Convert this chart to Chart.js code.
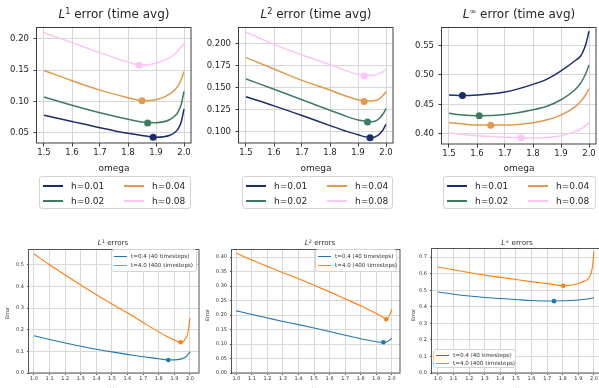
<!DOCTYPE html>
<html>
<head>
<meta charset="utf-8">
<script src="https://cdn.jsdelivr.net/npm/chart.js@4.4.1/dist/chart.umd.min.js"></script>
<style>
    html, body { margin: 0; padding: 0; background: #fff; }
    body { width: 599px; height: 388px; overflow: hidden; position: relative; font-family: "DejaVu Sans", sans-serif; color: #262626; }
    canvas { position: absolute; }
    .txt { position: absolute; white-space: nowrap; transform: translate(-50%, -50%); line-height: 1; }
    .leg { position: absolute; border: 1px solid #d4d4d4; border-radius: 3px; background: #fff; box-sizing: border-box; }
    .leg span { position: absolute; white-space: nowrap; line-height: 1; transform: translateY(-50%); }
    .leg i { position: absolute; display: block; }
    .m { font-style: italic; }
    sup { font-size: 0.68em; vertical-align: 0.5em; line-height: 0; }
</style>
</head>
<body>
<script>
    // ---- top row: time averaged errors vs omega ----
    const hLabels = ['h=0.01', 'h=0.02', 'h=0.04', 'h=0.08'];
    const hColors = ['#1c2b6b', '#3f7c5f', '#e09a4c', '#fcc5f6'];

    const omegaL1 = [1.5, 1.6, 1.7, 1.8, 1.85, 1.9, 1.95, 1.97, 1.98, 1.99, 2.0];
    const l1h01 = [0.078, 0.068, 0.058, 0.049, 0.0455, 0.0428, 0.046, 0.0515, 0.057, 0.067, 0.0876];
    const l1h02 = [0.107, 0.094, 0.082, 0.0715, 0.067, 0.066, 0.071, 0.078, 0.084, 0.095, 0.116];
    const l1h04 = [0.1495, 0.133, 0.118, 0.106, 0.101, 0.1025, 0.112, 0.12, 0.126, 0.135, 0.148];
    const l1h08 = [0.210, 0.194, 0.178, 0.163, 0.158, 0.161, 0.170, 0.177, 0.182, 0.187, 0.193];
    const l1MinX = [1.89, 1.87, 1.85, 1.84];
    const l1MinY = [0.0428, 0.0655, 0.101, 0.158];

    const omegaL2 = [1.5, 1.6, 1.7, 1.8, 1.85, 1.9, 1.95, 1.97, 1.98, 1.99, 2.0];
    const l2h01 = [0.1393, 0.129, 0.118, 0.1065, 0.101, 0.096, 0.0928, 0.095, 0.098, 0.102, 0.108];
    const l2h02 = [0.1596, 0.148, 0.136, 0.124, 0.118, 0.113, 0.111, 0.113, 0.116, 0.120, 0.126];
    const l2h04 = [0.184, 0.171, 0.158, 0.147, 0.141, 0.136, 0.1345, 0.136, 0.138, 0.141, 0.145];
    const l2h08 = [0.213, 0.199, 0.187, 0.176, 0.170, 0.165, 0.1635, 0.165, 0.1665, 0.168, 0.171];
    const l2MinX = [1.943, 1.934, 1.922, 1.922];
    const l2MinY = [0.0926, 0.1107, 0.134, 0.163];

    const omegaLi = [1.5, 1.55, 1.6, 1.7, 1.8, 1.85, 1.9, 1.95, 1.97, 1.98, 1.99, 2.0];
    const lih01 = [0.466, 0.465, 0.466, 0.471, 0.484, 0.493, 0.507, 0.524, 0.532, 0.541, 0.554, 0.574];
    const lih02 = [0.435, 0.432, 0.431, 0.433, 0.441, 0.447, 0.458, 0.475, 0.486, 0.494, 0.504, 0.517];
    const lih04 = [0.419, 0.417, 0.415, 0.415, 0.419, 0.424, 0.432, 0.446, 0.455, 0.461, 0.468, 0.476];
    const lih08 = [0.4016, 0.399, 0.397, 0.3945, 0.3935, 0.394, 0.397, 0.404, 0.408, 0.411, 0.415, 0.420];
    const liMinX = [1.548, 1.608, 1.649, 1.758];
    const liMinY = [0.465, 0.431, 0.4147, 0.3934];

    const omegaTicks = [1.5, 1.6, 1.7, 1.8, 1.9, 2.0];

    // ---- bottom row: errors at t=0.4 and t=4.0 ----
    const tLabels = ['t=0.4 (40 timesteps)', 't=4.0 (400 timesteps)'];
    const tColors = ['#1f77b4', '#ff7f0e'];
    const omegaB = [1.0, 1.1, 1.2, 1.3, 1.4, 1.5, 1.6, 1.7, 1.8, 1.85, 1.9, 1.94, 1.96, 1.97, 1.98, 1.99, 2.0];

    const e1t04 = [0.172, 0.155, 0.139, 0.124, 0.110, 0.0975, 0.086, 0.075, 0.066, 0.061, 0.0605, 0.064, 0.069, 0.073, 0.079, 0.088, 0.099];
    const e1t40 = [0.550, 0.500, 0.453, 0.407, 0.362, 0.319, 0.277, 0.233, 0.190, 0.170, 0.152, 0.142, 0.146, 0.160, 0.168, 0.200, 0.255];
    const e1MinX = [1.861, 1.940];
    const e1MinY = [0.060, 0.142];

    const e2t04 = [0.2145, 0.202, 0.190, 0.178, 0.167, 0.1555, 0.143, 0.130, 0.118, 0.113, 0.108, 0.106, 0.107, 0.108, 0.111, 0.115, 0.120];
    const e2t40 = [0.414, 0.390, 0.368, 0.346, 0.325, 0.303, 0.280, 0.256, 0.232, 0.219, 0.205, 0.193, 0.186, 0.187, 0.194, 0.205, 0.220];
    const e2MinX = [1.946, 1.964];
    const e2MinY = [0.106, 0.1855];

    const eit04 = [0.489, 0.476, 0.465, 0.456, 0.450, 0.444, 0.438, 0.435, 0.436, 0.438, 0.441, 0.445, 0.447, 0.449, 0.451, 0.453, 0.456];
    const eit40 = [0.639, 0.624, 0.607, 0.591, 0.578, 0.565, 0.552, 0.540, 0.528, 0.530, 0.540, 0.555, 0.566, 0.578, 0.598, 0.640, 0.735];
    const eiMinX = [1.744, 1.803];
    const eiMinY = [0.434, 0.527];

    const omegaTicksB = [1.0, 1.1, 1.2, 1.3, 1.4, 1.5, 1.6, 1.7, 1.8, 1.9, 2.0];

    // draws the full axes box (matplotlib spines)
    const spinePlugin = {
        id: 'spine',
        afterDatasetsDraw(chart, args, opts) {
            const a = chart.chartArea, c = chart.ctx;
            c.save();
            c.strokeStyle = opts.color;
            c.lineWidth = 1;
            c.strokeRect(Math.round(a.left) - 0.5, Math.round(a.top) + 0.5, Math.round(a.right - a.left) + 0.5, Math.round(a.bottom - a.top) - 0.5);
            c.restore();
        }
    };

    function makeChart(o) {
        const m = 6;
        const left = o.plot.l - o.yw - m, top = o.plot.t - m;
        const w = o.plot.r - o.plot.l + o.yw + 2 * m;
        const h = o.plot.b - o.plot.t + o.xh + 2 * m;
        const cv = document.createElement('canvas');
        cv.width = w; cv.height = h;
        cv.style.left = left + 'px'; cv.style.top = top + 'px';
        cv.style.width = w + 'px'; cv.style.height = h + 'px';
        document.body.appendChild(cv);

        const datasets = [];
        o.series.forEach((ys, i) => {
            datasets.push({
                data: o.xs.map((x, j) => ({ x: x, y: ys[j] })),
                borderColor: o.colors[i], borderWidth: o.lw,
                pointRadius: 0, cubicInterpolationMode: 'monotone', fill: false, order: 1
            });
            datasets.push({
                data: [{ x: o.minX[i], y: o.minY[i] }],
                showLine: false, pointRadius: o.pr, pointBorderWidth: 0,
                pointBackgroundColor: o.colors[i], order: 0
            });
        });

        const font = { family: 'DejaVu Sans', size: o.fs };
        new Chart(cv, {
            type: 'line',
            data: { datasets: datasets },
            plugins: [spinePlugin],
            options: {
                responsive: false, animation: false,
                layout: { padding: m, autoPadding: false },
                plugins: { legend: { display: false }, tooltip: { enabled: false }, spine: { color: o.spine } },
                scales: {
                    x: {
                        type: 'linear', min: o.xMin, max: o.xMax,
                        afterBuildTicks: s => { s.ticks = o.xTicks.map(v => ({ value: v })); },
                        afterFit: s => { s.height = o.xh; },
                        ticks: { callback: v => v.toFixed(1), font: font, color: o.tc, padding: o.xpad, maxRotation: 0, autoSkip: false },
                        grid: { color: o.grid, lineWidth: 1, tickLength: o.tl, tickColor: o.spine },
                        border: { display: false }
                    },
                    y: {
                        type: 'linear', min: o.yMin, max: o.yMax,
                        afterBuildTicks: s => { s.ticks = o.yTicks.map(v => ({ value: v })); },
                        afterFit: s => { s.width = o.yw; },
                        ticks: { callback: v => v.toFixed(o.yDec), font: font, color: o.tc, padding: o.ypad, autoSkip: false },
                        grid: { color: o.grid, lineWidth: 1, tickLength: o.tl, tickColor: o.spine },
                        border: { display: false }
                    }
                }
            }
        });
    }

    function text(html, x, y, size, extra) {
        const d = document.createElement('div');
        d.className = 'txt';
        d.innerHTML = html;
        d.style.left = x + 'px'; d.style.top = y + 'px'; d.style.fontSize = size + 'px';
        if (extra) d.style.cssText += extra;
        document.body.appendChild(d);
    }

    function legend(box, labels, colors, cfg) {
        const d = document.createElement('div');
        d.className = 'leg';
        d.style.left = box.l + 'px'; d.style.top = box.t + 'px';
        d.style.width = (box.r - box.l) + 'px'; d.style.height = (box.b - box.t) + 'px';
        labels.forEach((lab, i) => {
            const col = Math.floor(i / cfg.rows), row = i % cfg.rows;
            const x0 = cfg.colX[col], y0 = cfg.rowY[row];
            const ln = document.createElement('i');
            ln.style.left = x0 + 'px'; ln.style.width = cfg.lineW + 'px';
            ln.style.top = Math.round(y0 - cfg.lw / 2) + 'px'; ln.style.height = cfg.lw + 'px';
            ln.style.background = colors[i];
            d.appendChild(ln);
            const s = document.createElement('span');
            s.textContent = lab;
            s.style.left = (x0 + cfg.textDx) + 'px'; s.style.top = y0 + 'px';
            s.style.fontSize = cfg.fs + 'px'; s.style.color = cfg.color;
            d.appendChild(s);
        });
        document.body.appendChild(d);
    }

    // ---- top row ----
    const topCommon = {
        yw: 38, xh: 16, xMin: 1.475, xMax: 2.025, xTicks: omegaTicks,
        colors: hColors, lw: 1.5, pr: 3.5, fs: 8.5, tc: '#262626',
        grid: '#d6d6d6', spine: '#3c3c3c', tl: 3.5, xpad: 1.5, ypad: 4.5
    };
    makeChart(Object.assign({}, topCommon, {
        plot: { l: 37, t: 23, r: 191, b: 143 }, xs: omegaL1,
        series: [l1h01, l1h02, l1h04, l1h08], minX: l1MinX, minY: l1MinY,
        yMin: 0.0335, yMax: 0.2196, yTicks: [0.05, 0.10, 0.15, 0.20], yDec: 2
    }));
    makeChart(Object.assign({}, topCommon, {
        plot: { l: 239, t: 23, r: 393, b: 143 }, xs: omegaL2,
        series: [l2h01, l2h02, l2h04, l2h08], minX: l2MinX, minY: l2MinY,
        yMin: 0.0867, yMax: 0.2193, yTicks: [0.100, 0.125, 0.150, 0.175, 0.200], yDec: 3
    }));
    makeChart(Object.assign({}, topCommon, {
        plot: { l: 442, t: 23, r: 596, b: 144 }, xs: omegaLi,
        series: [lih01, lih02, lih04, lih08], minX: liMinX, minY: liMinY,
        yMin: 0.383, yMax: 0.5819, yTicks: [0.40, 0.45, 0.50, 0.55], yDec: 2
    }));

    text('<span class="m">L</span><sup>1</sup> error (time avg)', 114, 14, 12);
    text('<span class="m">L</span><sup>2</sup> error (time avg)', 316, 14, 12);
    text('<span class="m">L</span><sup>∞</sup> error (time avg)', 519, 14, 12);
    text('omega', 114, 168, 9);
    text('omega', 316, 168, 9);
    text('omega', 519, 168, 9);

    const topLeg = { rows: 2, colX: [3, 84], rowY: [9, 24], lineW: 20, lw: 2, textDx: 28, fs: 9, color: '#262626' };
    legend({ l: 39, t: 176, r: 191, b: 209 }, hLabels, hColors, topLeg);
    legend({ l: 242, t: 176, r: 393, b: 209 }, hLabels, hColors, topLeg);
    legend({ l: 443, t: 176, r: 596, b: 209 }, hLabels, hColors, topLeg);

    // ---- bottom row ----
    const botCommon = {
        yw: 20, xh: 9, xTicks: omegaTicksB, xs: omegaB,
        colors: tColors, lw: 1.1, pr: 2.3, fs: 5, tc: '#333',
        grid: '#d9d9d9', spine: '#555', tl: 2, xpad: 0.5, ypad: 3
    };
    makeChart(Object.assign({}, botCommon, {
        plot: { l: 29, t: 249, r: 199, b: 373 },
        series: [e1t04, e1t40], minX: e1MinX, minY: e1MinY,
        xMin: 0.968, xMax: 2.058, yMin: 0, yMax: 0.573, yTicks: [0, 0.1, 0.2, 0.3, 0.4, 0.5], yDec: 1
    }));
    makeChart(Object.assign({}, botCommon, {
        plot: { l: 232, t: 249, r: 400, b: 373 },
        series: [e2t04, e2t40], minX: e2MinX, minY: e2MinY,
        xMin: 0.972, xMax: 2.053, yMin: 0, yMax: 0.428, yTicks: [0, 0.05, 0.10, 0.15, 0.20, 0.25, 0.30, 0.35, 0.40], yDec: 2
    }));
    makeChart(Object.assign({}, botCommon, {
        plot: { l: 432, t: 248, r: 603, b: 373 },
        series: [eit04, eit40], minX: eiMinX, minY: eiMinY,
        xMin: 0.962, xMax: 2.058, yMin: 0, yMax: 0.755, yTicks: [0, 0.1, 0.2, 0.3, 0.4, 0.5, 0.6, 0.7], yDec: 1
    }));

    text('<span class="m">L</span><sup>1</sup> errors', 113, 243, 7.2, 'color:#333');
    text('<span class="m">L</span><sup>2</sup> errors', 320, 243, 7.2, 'color:#333');
    text('<span class="m">L</span><sup>∞</sup> errors', 517, 243, 7.2, 'color:#333');
    text('Error', 7, 313, 5, 'color:#333;transform:translate(-50%,-50%) rotate(-90deg)');
    text('Error', 207, 315, 5, 'color:#333;transform:translate(-50%,-50%) rotate(-90deg)');
    text('Error', 413, 315, 5, 'color:#333;transform:translate(-50%,-50%) rotate(-90deg)');
    text('ω', 112, 389, 6, 'color:#333');
    text('ω', 314, 389, 6, 'color:#333');
    text('ω', 517, 389, 6, 'color:#333');

    const botLeg = { rows: 2, colX: [2], rowY: [7, 15.5], lineW: 13, lw: 1.2, textDx: 17, fs: 5.6, color: '#333' };
    legend({ l: 111, t: 249, r: 197, b: 272 }, tLabels, tColors, botLeg);
    legend({ l: 315, t: 249, r: 397, b: 272 }, tLabels, tColors, botLeg);
    legend({ l: 433, t: 349, r: 516, b: 368 }, tLabels, tColors, { rows: 2, colX: [2], rowY: [5.5, 13.5], lineW: 13, lw: 1.2, textDx: 17, fs: 5.6, color: '#333' });
</script>
</body>
</html>
